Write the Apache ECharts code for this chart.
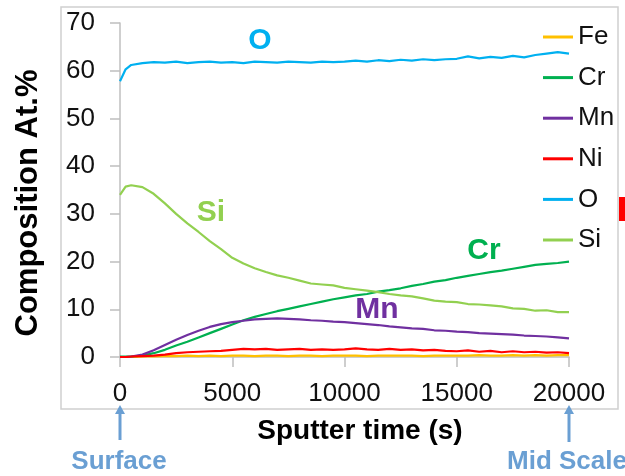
<!DOCTYPE html>
<html>
<head>
<meta charset="utf-8">
<script src="https://cdn.jsdelivr.net/npm/echarts@6/dist/echarts.min.js"></script>
<style>
  html, body { margin: 0; padding: 0; background: #fff; }
  #chart { width: 625px; height: 476px; }
</style>
</head>
<body>
<div id="chart"></div>
<script>
// sputter time (s)
const times = [0, 250, 500, 1000, 1500, 2000, 2500, 3000, 3500, 4000, 4500, 5000, 5500, 6000, 6500, 7000,
  7500, 8000, 8500, 9000, 9500, 10000, 10500, 11000, 11500, 12000, 12500, 13000, 13500, 14000, 14500,
  15000, 15500, 16000, 16500, 17000, 17500, 18000, 18500, 19000, 19500, 20000]

const fe = [0.0, 0.0, 0.0, 0.1, 0.1, 0.2, 0.2, 0.3, 0.2, 0.3, 0.2, 0.3, 0.3, 0.2, 0.3, 0.3, 0.2, 0.3,
  0.3, 0.2, 0.3, 0.3, 0.3, 0.2, 0.3, 0.3, 0.3, 0.3, 0.2, 0.3, 0.3, 0.3, 0.3, 0.4, 0.3, 0.3, 0.4, 0.3,
  0.4, 0.3, 0.4, 0.4]
const cr = [0.1, 0.1, 0.1, 0.3, 0.8, 1.5, 2.4, 3.2, 4.1, 5.0, 5.9, 6.8, 7.7, 8.4, 9.0, 9.6, 10.1, 10.6,
  11.1, 11.6, 12.1, 12.5, 12.9, 13.2, 13.7, 14.0, 14.4, 14.9, 15.3, 15.8, 16.1, 16.6, 17.0, 17.4, 17.8,
  18.1, 18.5, 18.9, 19.3, 19.5, 19.7, 20.0]
const mn = [0.0, 0.0, 0.1, 0.5, 1.4, 2.5, 3.6, 4.6, 5.5, 6.3, 6.9, 7.3, 7.6, 7.9, 8.0, 8.1, 8.0, 7.9,
  7.7, 7.6, 7.4, 7.3, 7.1, 6.9, 6.7, 6.4, 6.2, 6.0, 5.9, 5.6, 5.5, 5.3, 5.2, 5.0, 4.9, 4.8, 4.7, 4.5,
  4.4, 4.3, 4.1, 3.9]
const ni = [0.0, 0.0, 0.1, 0.2, 0.3, 0.5, 0.8, 1.0, 1.1, 1.2, 1.3, 1.5, 1.7, 1.6, 1.7, 1.5, 1.6, 1.7,
  1.5, 1.6, 1.5, 1.6, 1.8, 1.6, 1.5, 1.7, 1.5, 1.6, 1.4, 1.5, 1.3, 1.2, 1.4, 1.1, 1.3, 1.0, 1.2, 1.0,
  1.1, 0.9, 1.0, 0.8]
const ox = [57.8, 60.3, 61.2, 61.6, 61.8, 61.7, 61.9, 61.6, 61.8, 61.9, 61.7, 61.8, 61.6, 61.9, 61.8,
  61.7, 61.9, 61.8, 61.7, 61.9, 61.8, 61.9, 62.1, 61.9, 62.2, 62.0, 62.3, 62.1, 62.4, 62.2, 62.4, 62.5,
  63.0, 62.6, 62.9, 62.7, 63.1, 62.8, 63.3, 63.6, 63.9, 63.6]
const si = [34.0, 35.7, 36.0, 35.6, 34.2, 32.2, 30.0, 28.0, 26.2, 24.3, 22.6, 20.8, 19.6, 18.6, 17.8,
  17.1, 16.6, 16.0, 15.4, 15.2, 15.0, 14.5, 14.2, 13.9, 13.6, 13.2, 12.9, 12.7, 12.3, 11.8, 11.6, 11.5,
  11.1, 11.0, 10.8, 10.6, 10.2, 10.1, 9.7, 9.8, 9.4, 9.4]

const names = ['Fe', 'Cr', 'Mn', 'Ni', 'O', 'Si']
const values = [fe, cr, mn, ni, ox, si]
const colors = ['#FFC000', '#00B050', '#7030A0', '#FF0000', '#00B0F0', '#92D050']

const xTicks = [0, 5000, 10000, 15000, 20000]
const yTicks = [0, 10, 20, 30, 40, 50, 60, 70]

const FONT = 'Liberation Sans, Arial, sans-serif'
const NOTE = '#6A9FD3'

const chart = echarts.init(document.getElementById('chart'))

const series = names.map((name, k) => ({
  name: name,
  type: 'line',
  data: times.map((t, i) => [t, values[k][i]]),
  symbol: 'none',
  lineStyle: { color: colors[k], width: 2.2 },
  itemStyle: { color: colors[k] },
  z: 2 + k
}))

// arrow: stem + head, from bottom up to tip
function arrow(x, tip, bottom) {
  return [
    { type: 'line', shape: { x1: x, y1: bottom, x2: x, y2: tip + 6 }, style: { stroke: NOTE, lineWidth: 3 } },
    { type: 'polygon', shape: { points: [[x, tip], [x - 5, tip + 9], [x + 5, tip + 9]] }, style: { fill: NOTE } }
  ]
}

function label(text, x, y, color, size) {
  return {
    type: 'text', x: x, y: y,
    style: { text: text, fill: color, font: 'bold ' + size + 'px ' + FONT, align: 'center', verticalAlign: 'middle' }
  }
}

chart.setOption({
  animation: false,
  backgroundColor: '#fff',
  color: colors,
  grid: { left: 120, right: 56, top: 23, bottom: 119 },
  legend: {
    orient: 'vertical',
    left: 543,
    top: 23,
    padding: 0,
    icon: 'rect',
    itemWidth: 30,
    itemHeight: 3,
    itemGap: 12.6,
    data: names,
    textStyle: { fontFamily: FONT, fontSize: 26, color: '#111', lineHeight: 28 }
  },
  xAxis: {
    type: 'value',
    min: xTicks[0],
    max: xTicks[xTicks.length - 1],
    interval: 5000,
    axisLine: { show: true, lineStyle: { color: '#bfbfbf', width: 1.5 } },
    axisTick: { show: true, length: 10, lineStyle: { color: '#bfbfbf', width: 1.5 } },
    axisLabel: { margin: 24, fontFamily: FONT, fontSize: 26, color: '#111', formatter: v => String(v) },
    splitLine: { show: false }
  },
  yAxis: {
    type: 'value',
    min: yTicks[0],
    max: yTicks[yTicks.length - 1],
    interval: 10,
    axisLine: { show: true, lineStyle: { color: '#bfbfbf', width: 1.5 } },
    axisTick: { show: true, length: 10, lineStyle: { color: '#bfbfbf', width: 1.5 } },
    axisLabel: { margin: 25, fontFamily: FONT, fontSize: 26, color: '#111' },
    splitLine: { show: false }
  },
  series: series,
  graphic: [
    { type: 'rect', shape: { x: 61, y: 7, width: 557, height: 402 }, style: { fill: 'none', stroke: '#d0d0d0', lineWidth: 1.5 }, silent: true },
    { type: 'rect', shape: { x: 619, y: 197, width: 6, height: 24 }, style: { fill: '#FF0000' } },
    {
      type: 'text', x: 28, y: 203, rotation: Math.PI / 2,
      style: { text: 'Composition At.%', fill: '#000', font: 'bold 31px ' + FONT, align: 'center', verticalAlign: 'middle' }
    },
    label('Sputter time (s)', 360, 431, '#000', 28),
    label('O', 260, 41, '#00B0F0', 30),
    label('Si', 211, 213, '#92D050', 30),
    label('Cr', 484, 251, '#00B050', 30),
    label('Mn', 377, 310, '#7030A0', 30),
    label('Surface', 119, 462, NOTE, 26),
    {
      type: 'text', x: 507, y: 462,
      style: { text: 'Mid Scale', fill: NOTE, font: 'bold 26px ' + FONT, align: 'left', verticalAlign: 'middle' }
    },
    ...arrow(120, 405, 440),
    ...arrow(569, 405, 442)
  ]
})
</script>
</body>
</html>
